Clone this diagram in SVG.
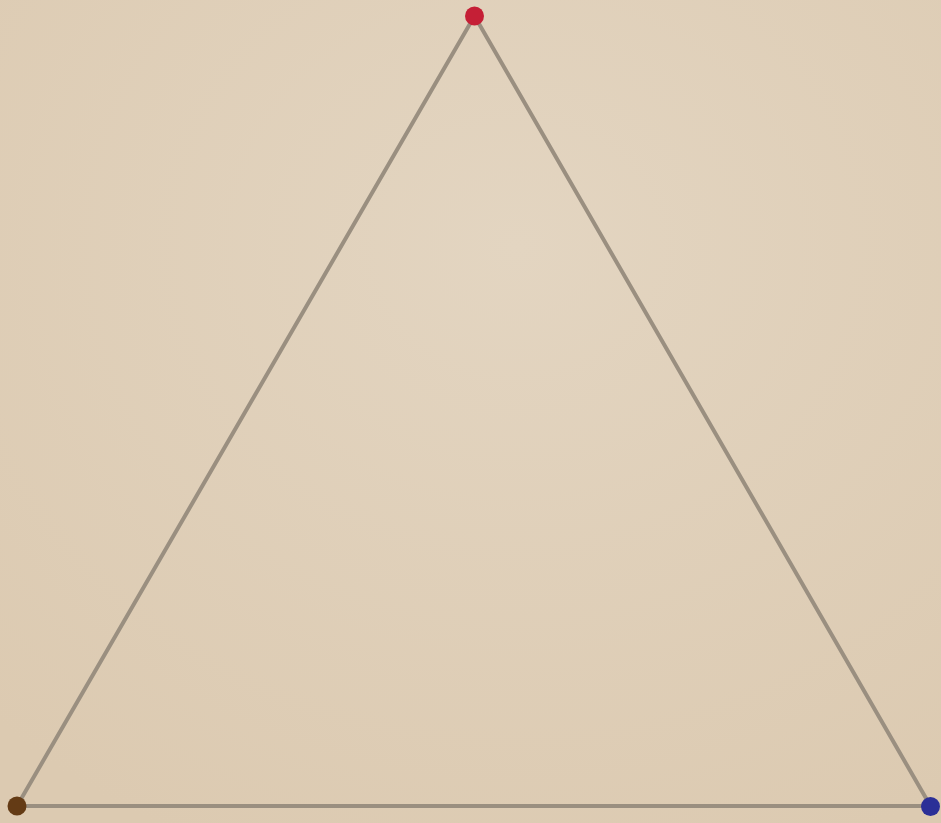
<svg xmlns="http://www.w3.org/2000/svg" width="941" height="823" viewBox="0 0 941 823">
<style>
.edge{stroke:#9a8f80;stroke-width:4;fill:none;stroke-linecap:round}
.dot{stroke:none}
</style>
<defs>
<radialGradient id="bg" cx="0.55" cy="0.3" r="0.8">
<stop offset="0" stop-color="#e3d5c1"/>
<stop offset="1" stop-color="#dccab1"/>
</radialGradient>
</defs>
<rect width="941" height="823" fill="url(#bg)"/>
<g id="connectors">
<line class="edge" x1="474.5" y1="16" x2="17" y2="806"/>
<line class="edge" x1="474.5" y1="16" x2="930.5" y2="806"/>
<line class="edge" x1="17" y1="806" x2="930.5" y2="806"/>
</g>
<g id="node-top"><circle class="dot" cx="474.5" cy="16" r="9.5" fill="#c51f36"/></g>
<g id="node-left"><circle class="dot" cx="17" cy="806" r="9.5" fill="#643b15"/></g>
<g id="node-right"><circle class="dot" cx="930.5" cy="806.5" r="9.5" fill="#2b2f97"/></g>
</svg>
